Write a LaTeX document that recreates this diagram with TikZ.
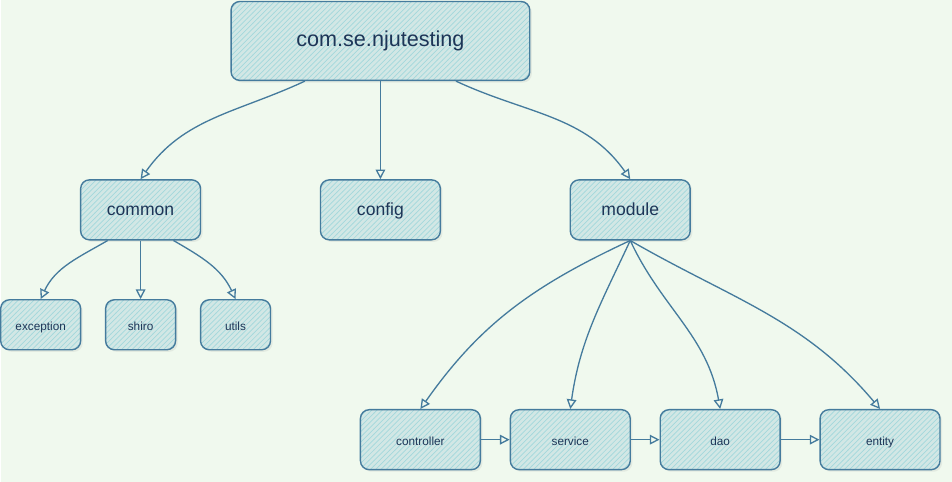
\documentclass[tikz,border=0pt]{standalone}
\usepackage{fontspec}
\setmainfont{Liberation Sans}
\usetikzlibrary{arrows.meta,patterns,shadows}

\definecolor{bgfill}{HTML}{F0F9EE}
\definecolor{boxfill}{HTML}{D2E7E5}
\definecolor{hatch}{HTML}{A3D8DC}
\definecolor{boxline}{HTML}{457B9D}
\definecolor{boxtext}{HTML}{1D3557}

\tikzset{
  pkg/.style={drop shadow={shadow xshift=1.2pt, shadow yshift=-1.2pt, opacity=0.12},
    preaction={fill=boxfill},
    pattern=north east lines, pattern color=hatch,
    draw=boxline, line width=0.8pt, rounded corners=5pt, inner sep=0pt,
    text height=1.5ex, text depth=0.3ex, text=boxtext},
  rootbox/.style={pkg, minimum width=5.98cm, minimum height=1.58cm, font=\fontsize{12.3}{14}\selectfont},
  midbox/.style={pkg, minimum width=2.4cm, minimum height=1.2cm, font=\fontsize{10}{12}\selectfont},
  leafbox/.style={pkg, minimum height=1.0cm, font=\fontsize{6.7}{8}\selectfont},
  lowbox/.style={pkg, minimum width=2.4cm, minimum height=1.2cm, font=\fontsize{6.7}{8}\selectfont},
  link/.style={draw=boxline, line width=0.75pt, -{Triangle[open, length=5.5pt, width=5.5pt]}}
}

\begin{document}
\begin{tikzpicture}[x=0.02cm, y=0.02cm]
  \fill[bgfill] (0,0) rectangle (952,482); % page, 952 x 482 px

  % top level
  \node[rootbox] (root) at (380,441) {com.se.njutesting};
  \node[midbox] (common) at (140,272) {common};
  \node[midbox] (config) at (380,272) {config};
  \node[midbox] (module) at (630,272) {module};

  % packages under common
  \node[leafbox, minimum width=1.6cm] (exception) at (40,157) {exception};
  \node[leafbox, minimum width=1.4cm] (shiro) at (140,157) {shiro};
  \node[leafbox, minimum width=1.4cm] (utils) at (235,157) {utils};

  % layers under module
  \foreach \name/\x in {controller/420, service/570, dao/720, entity/880} {
    \node[lowbox] (\name) at (\x,42) {\name};
  }

  \draw[link] (root.208) to[out=205, in=55] (common.north);
  \draw[link] (root.south) -- (config.north);
  \draw[link] (root.332) to[out=-25, in=125] (module.north);

  \draw[link] (common.223) to[out=210, in=65] (exception.north);
  \draw[link] (common.south) -- (shiro.north);
  \draw[link] (common.317) to[out=-30, in=115] (utils.north);

  \foreach \child/\outang/\inang in {controller/205/55, service/245/82, dao/295/100, entity/330/130} {
    \draw[link] (module.south) to[out=\outang, in=\inang] (\child.north);
  }
  \foreach \src/\dst in {controller/service, service/dao, dao/entity} { %call order
    \draw[link] (\src.east) -- (\dst.west);
  }
\end{tikzpicture}
\end{document}
